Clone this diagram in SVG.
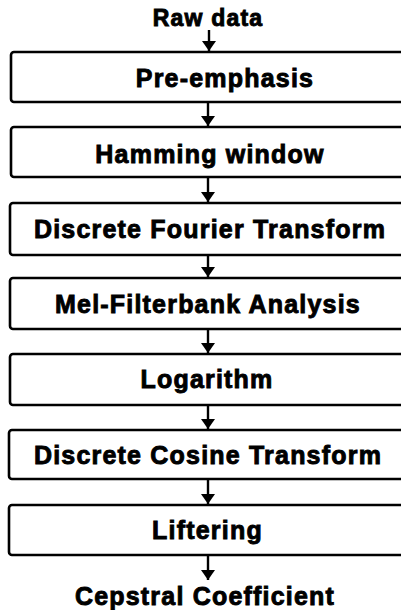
<svg xmlns="http://www.w3.org/2000/svg" width="401" height="610" viewBox="0 0 401 610">
<defs>
<marker id="ah" viewBox="0 0 10 14" refX="10" refY="7" markerWidth="10" markerHeight="14" markerUnits="userSpaceOnUse" orient="auto">
<path d="M0,0 L10,7 L0,14 Z" fill="#000"/>
</marker>
</defs>
<style>
rect.b{fill:#fff;stroke:#000;stroke-width:2.6}
text{font-family:"Liberation Sans",Arial,sans-serif;font-weight:bold;font-size:25px;fill:#000;stroke:#000;stroke-width:0.9;text-anchor:middle;letter-spacing:1.2px}
line.c{stroke:#000;stroke-width:2.4}
</style>
<rect width="401" height="610" fill="#fff"/>
<g id="raw"><text x="208" y="26" style="font-size:23px">Raw data</text></g>
<g id="n1"><rect class="b" x="11" y="52" width="400" height="50" rx="3"/><text x="225" y="87">Pre-emphasis</text></g>
<g id="n2"><rect class="b" x="11" y="127" width="400" height="50" rx="3"/><text x="210" y="163">Hamming window</text></g>
<g id="n3"><rect class="b" x="10" y="203" width="400" height="52" rx="3"/><text x="210" y="238">Discrete Fourier Transform</text></g>
<g id="n4"><rect class="b" x="10" y="278" width="400" height="51" rx="3"/><text x="208" y="313">Mel-Filterbank Analysis</text></g>
<g id="n5"><rect class="b" x="10" y="354" width="400" height="51" rx="3"/><text x="207" y="388">Logarithm</text></g>
<g id="n6"><rect class="b" x="9" y="430" width="400" height="49" rx="3"/><text x="208" y="464">Discrete Cosine Transform</text></g>
<g id="n7"><rect class="b" x="9" y="505" width="400" height="50" rx="3"/><text x="207.5" y="539">Liftering</text></g>
<g id="out"><text x="205" y="605">Cepstral Coefficient</text></g>
<g id="connectors">
<line class="c" x1="209" y1="30" x2="209" y2="51" marker-end="url(#ah)"/>
<line class="c" x1="208" y1="103" x2="208" y2="126" marker-end="url(#ah)"/>
<line class="c" x1="208" y1="178" x2="208" y2="202" marker-end="url(#ah)"/>
<line class="c" x1="208" y1="256" x2="208" y2="277" marker-end="url(#ah)"/>
<line class="c" x1="208" y1="330" x2="208" y2="353" marker-end="url(#ah)"/>
<line class="c" x1="208" y1="406" x2="208" y2="429" marker-end="url(#ah)"/>
<line class="c" x1="208" y1="480" x2="208" y2="504" marker-end="url(#ah)"/>
<line class="c" x1="208" y1="556" x2="208" y2="580" marker-end="url(#ah)"/>
</g>
</svg>
